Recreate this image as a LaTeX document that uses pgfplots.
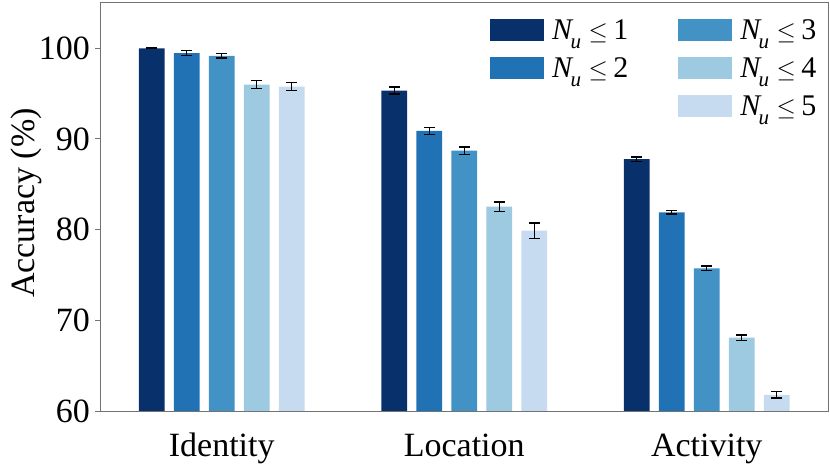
\documentclass[border=0pt]{standalone}
\usepackage{fontspec}
\setmainfont{Liberation Serif}
\usepackage{pgfplots}
\usepackage{pgfplotstable}
\pgfplotsset{compat=1.18}
\definecolor{c1}{HTML}{08306B}
\definecolor{c2}{HTML}{2171B5}
\definecolor{c3}{HTML}{4292C6}
\definecolor{c4}{HTML}{9ECAE1}
\definecolor{c5}{HTML}{C6DBEF}
\newcommand\fs{\fontsize{34bp}{40bp}\selectfont}
\newcommand\lfs{\fontsize{30bp}{34bp}\selectfont}
\newcommand\Nu[1]{\textit{N}\kern-0.1em\raisebox{-0.3em}{\fontsize{21bp}{21bp}\selectfont\textit{u}}\hspace{0.25em}{\fontsize{24bp}{24bp}\selectfont$\leq$}\hspace{0.18em}#1}

\pgfplotstableread{
x y e
0 100.0 0.03
1 95.34 0.38
2 87.77 0.26
}\dA
\pgfplotstableread{
x y e
0 99.47 0.28
1 90.89 0.38
2 81.92 0.20
}\dB
\pgfplotstableread{
x y e
0 99.17 0.25
1 88.71 0.42
2 75.74 0.24
}\dC
\pgfplotstableread{
x y e
0 96.00 0.46
1 82.54 0.50
2 68.08 0.30
}\dD
\pgfplotstableread{
x y e
0 95.78 0.42
1 79.90 0.85
2 61.79 0.37
}\dE

\begin{document}
\begin{tikzpicture}
\useasboundingbox (0,0) rectangle (830bp,468bp);
\begin{axis}[
  at={(100.5bp,57bp)}, anchor=south west,
  scale only axis, width=727.5bp, height=408bp,
  xmin=-0.5, xmax=2.5, ymin=60, ymax=105,
  xtick={0,1,2}, xticklabels={Identity,Location,Activity},
  ytick={60,70,80,90,100},
  ytick pos=left, xtick pos=bottom,
  tick align=outside, major tick length=5bp,
  x tick style={draw=none},
  y tick style={black!55, line width=1bp},
  axis line style={black!55, line width=1bp},
  /pgf/number format/assume math mode=true,
  tick label style={font=\fs},
  yticklabel style={inner sep=0pt, xshift=-5.5bp},
  xticklabel style={anchor=base, inner sep=0pt, yshift=-40.7bp},
  ylabel={Accuracy (\%)},
  ylabel style={font=\fs, at={(axis description cs:-0.1024,0.51)}, anchor=center},
  ybar, bar width=0.106,
  every axis plot/.append style={draw=none},
  error bars/y dir=both, error bars/y explicit,
  error bars/error bar style={black, line width=1.3bp},
  error bars/error mark options={black, line width=1.3bp, mark size=5.5bp, rotate=90},
  legend columns=2,
  legend style={draw=none, fill=none, inner sep=0pt, font=\lfs,
    at={(0.5354,0.9608)}, anchor=north west,
    column sep=8bp, row sep=16bp, nodes={inner sep=0pt},
    /tikz/every even column/.append style={column sep=50bp}},
  legend cell align=left,
]
\addplot[fill=c1, bar shift=-0.2886, forget plot] table[x=x,y=y,y error=e]{\dA};
\addplot[fill=c2, bar shift=-0.1443, forget plot] table[x=x,y=y,y error=e]{\dB};
\addplot[fill=c3, bar shift=0, forget plot] table[x=x,y=y,y error=e]{\dC};
\addplot[fill=c4, bar shift=0.1443, forget plot] table[x=x,y=y,y error=e]{\dD};
\addplot[fill=c5, bar shift=0.2886, forget plot] table[x=x,y=y,y error=e]{\dE};
\addlegendimage{legend image code/.code={\fill[c1] (0bp,-11bp) rectangle (54bp,11bp);}}
\addlegendentry{\Nu{1}}
\addlegendimage{legend image code/.code={\fill[c3] (0bp,-11bp) rectangle (54bp,11bp);}}
\addlegendentry{\Nu{3}}
\addlegendimage{legend image code/.code={\fill[c2] (0bp,-11bp) rectangle (54bp,11bp);}}
\addlegendentry{\Nu{2}}
\addlegendimage{legend image code/.code={\fill[c4] (0bp,-11bp) rectangle (54bp,11bp);}}
\addlegendentry{\Nu{4}}
\addlegendimage{empty legend}
\addlegendentry{}
\addlegendimage{legend image code/.code={\fill[c5] (0bp,-11bp) rectangle (54bp,11bp);}}
\addlegendentry{\Nu{5}}
\end{axis}
\end{tikzpicture}
\end{document}
